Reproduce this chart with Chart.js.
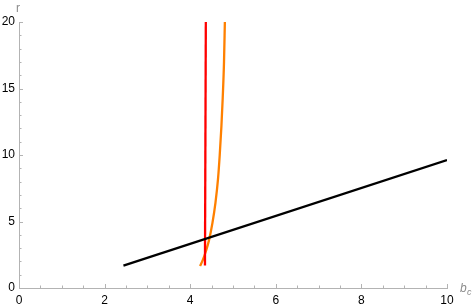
<!DOCTYPE html>
<html>
<head>
<meta charset="utf-8">
<script src="https://cdn.jsdelivr.net/npm/chart.js@4/dist/chart.umd.min.js"></script>
<style>
  html, body { margin: 0; padding: 0; background: #fff; }
  #wrap { width: 473px; height: 308px; }
</style>
</head>
<body>
<div id="wrap"><canvas id="myChart" width="473" height="308"></canvas></div>
<script>
// curve values (b_c, r)
var blackX = [2.44, 10];
var blackY = [1.68, 9.62];

var redX = [4.345, 4.365];
var redY = [1.7, 20];

var orangeX = [4.23, 4.30, 4.37, 4.44, 4.52, 4.59, 4.65, 4.69, 4.73, 4.76, 4.79, 4.81];
var orangeY = [1.65, 2.15, 2.8, 3.6, 4.9, 6.4, 8.2, 10.0, 12.2, 14.3, 17, 20];

var xTicks = [0, 2, 4, 6, 8, 10];
var yTicks = [0, 5, 10, 15, 20];

function toPoints(xs, ys) {
  var pts = [];
  for (var i = 0; i < xs.length; i++) pts.push({x: xs[i], y: ys[i]});
  return pts;
}

// inward ticks + axis titles, like the original
var axisDecor = {
  id: 'axisDecor',
  afterDraw: function(chart) {
    var ctx = chart.ctx;
    var xs = chart.scales.x, ys = chart.scales.y;
    var area = chart.chartArea;
    ctx.save();
    ctx.strokeStyle = '#b3b3b3';
    ctx.lineWidth = 1;
    ctx.beginPath();
    for (var v = 0; v <= 10.001; v += 0.5) {
      var px = Math.round(xs.getPixelForValue(v)) + 0.5;
      var len = (Math.abs(v % 2) < 0.01) ? 4 : 2.5;
      ctx.moveTo(px, area.bottom);
      ctx.lineTo(px, area.bottom - len);
    }
    for (var w = 0; w <= 20.001; w += 1) {
      var py = Math.round(ys.getPixelForValue(w)) + 0.5;
      var len2 = (w % 5 === 0) ? 4 : 2.5;
      ctx.moveTo(area.left, py);
      ctx.lineTo(area.left + len2, py);
    }
    ctx.stroke();

    ctx.fillStyle = '#8c8c8c';
    ctx.font = '12px "Liberation Sans", Arial, sans-serif';
    ctx.textAlign = 'center';
    ctx.textBaseline = 'alphabetic';
    ctx.fillText('r', area.left - 1, 12);
    ctx.textAlign = 'left';
    ctx.font = 'italic 12px "Liberation Sans", Arial, sans-serif';
    ctx.fillText('b', area.right + 13, area.bottom + 4);
    ctx.font = 'italic 9px "Liberation Sans", Arial, sans-serif';
    ctx.fillText('c', area.right + 20, area.bottom + 7);
    ctx.restore();
  }
};

var ctx = document.getElementById("myChart").getContext("2d");
var myChart = new Chart(ctx, {
  type: 'scatter',
  data: {
    datasets: [
      {
        label: 'black',
        data: toPoints(blackX, blackY),
        showLine: true,
        borderColor: '#000000',
        borderWidth: 2.3,
        pointRadius: 0
      },
      {
        label: 'red',
        data: toPoints(redX, redY),
        showLine: true,
        borderColor: '#ff0000',
        borderWidth: 2.3,
        pointRadius: 0
      },
      {
        label: 'orange',
        data: toPoints(orangeX, orangeY),
        showLine: true,
        borderColor: '#ff8000',
        borderWidth: 2.3,
        pointRadius: 0,
        cubicInterpolationMode: 'monotone'
      }
    ]
  },
  options: {
    responsive: false,
    animation: false,
    layout: { padding: { top: 22, right: 26, left: 0, bottom: 0 } },
    plugins: { legend: { display: false }, tooltip: { enabled: false } },
    scales: {
      x: {
        type: 'linear',
        min: 0, max: 10,
        grid: { display: false, drawTicks: false },
        border: { display: true, color: '#b3b3b3', width: 1 },
        afterBuildTicks: function(scale) { scale.ticks = xTicks.map(function(v) { return {value: v}; }); },
        afterFit: function(scale) { scale.height = 20; },
        ticks: {
          color: '#000',
          padding: 5,
          maxRotation: 0,
          font: { size: 12, family: '"Liberation Sans", Arial, sans-serif' }
        }
      },
      y: {
        type: 'linear',
        min: 0, max: 20,
        grid: { display: false, drawTicks: false },
        border: { display: true, color: '#b3b3b3', width: 1 },
        afterBuildTicks: function(scale) { scale.ticks = yTicks.map(function(v) { return {value: v}; }); },
        afterFit: function(scale) { scale.width = 19; },
        ticks: {
          color: '#000',
          padding: 4,
          font: { size: 12, family: '"Liberation Sans", Arial, sans-serif' }
        }
      }
    }
  },
  plugins: [axisDecor]
});
</script>
</body>
</html>
